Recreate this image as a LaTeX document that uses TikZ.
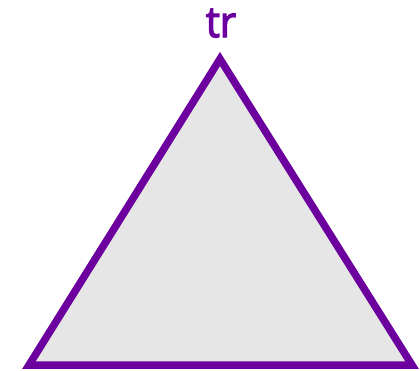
\documentclass[tikz,border=0pt]{standalone}
\usepackage{fontspec}
\setmainfont{Open Sans}
\newfontfamily\trfont{Open Sans}[FakeBold=3]
\definecolor{trpurple}{RGB}{108,0,158}
\definecolor{trfill}{RGB}{230,230,230}
\begin{document}
\begin{tikzpicture}[x=1pt, y=-1pt, every node/.style={font=\fontsize{43}{43}\trfont}]
  \useasboundingbox (0,0) rectangle (420,370);
  \coordinate (top) at (220,59);
  \coordinate (left) at (29,365);
  \coordinate (right) at (412,365);
  \draw[trpurple, fill=trfill, line width=7.5pt, miter limit=10] (top) -- (left) -- (right) -- cycle;
  \node[trpurple, anchor=base, inner sep=0pt] (tr) at (221,37) {\scalebox{0.92}[1]{tr}};
\end{tikzpicture}
\end{document}
